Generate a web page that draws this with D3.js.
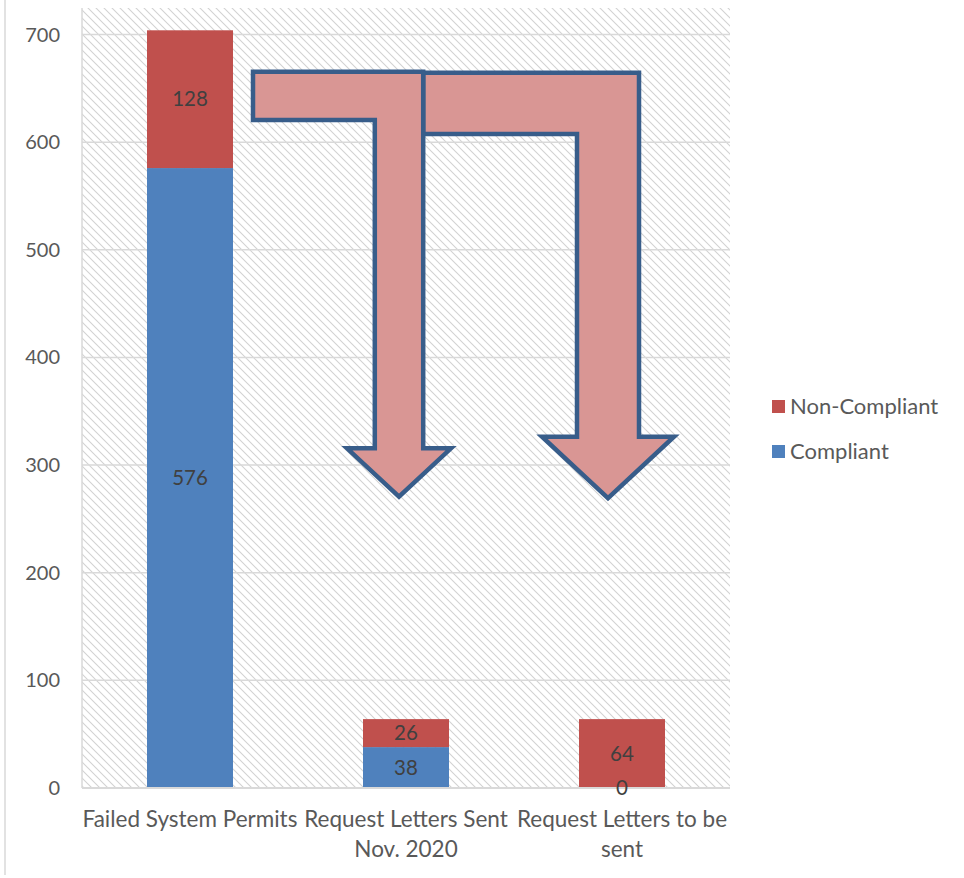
<!DOCTYPE html>
<html>
<head>
<meta charset="utf-8">
<script src="https://cdn.jsdelivr.net/npm/d3@7/dist/d3.min.js"></script>
<style>
  html, body { margin: 0; padding: 0; background: #fff; }
  svg { display: block; font-family: Lato, "Open Sans", sans-serif; }
</style>
</head>
<body>
<svg id="chart" width="964" height="878"></svg>
<script>
// ---- data ----
const categories = [["Failed System Permits"], ["Request Letters Sent", "Nov. 2020"], ["Request Letters to be", "sent"]];
const categoryKeys = ["Failed System Permits", "Request Letters Sent Nov. 2020", "Request Letters to be sent"];
const seriesNames = ["Compliant", "Non-Compliant"];
const compliant = [576, 38, 0];
const nonCompliant = [128, 26, 64];
const yTicks = [0, 100, 200, 300, 400, 500, 600, 700];
const colors = { "Compliant": "#4f81bd", "Non-Compliant": "#c0504d" };

// annotation arrows (in data-value terms for y, category-relative for x)
const arrows = [
  { from: 0, to: 2, dx: -14, shaftHalf: 31, headHalf: 66, top: 664.6, bandBottom: 607.6, shaftBottom: 326.4, tip: 269.2, leftAtPrevShaft: true },
  { from: 0, to: 1, dx: -7, shaftHalf: 24.2, headHalf: 52, top: 665.5, bandBottom: 620.6, shaftBottom: 315.6, tip: 270.6, leftAtPrevShaft: false }
];

// ---- layout ----
const svg = d3.select("#chart");
const plot = { left: 82, right: 730, top: 8, bottom: 788 };

const x = d3.scaleBand().domain(categoryKeys).range([plot.left, plot.right]).paddingInner(0.6).paddingOuter(0.3);
const y = d3.scaleLinear().domain([0, 700]).range([plot.bottom, 34.6]);

const defs = svg.append("defs");
const pat = defs.append("pattern").attr("id", "hatch").attr("patternUnits", "userSpaceOnUse")
  .attr("width", 8).attr("height", 8);
pat.append("path").attr("d", "M-2,-2 L10,10 M-2,6 L2,10 M6,-2 L10,2")
  .attr("stroke", "#d2d2d2").attr("stroke-width", 1.1).attr("fill", "none");

// outer chart border (left edge visible)
svg.append("line").attr("x1", 5).attr("x2", 5).attr("y1", 0).attr("y2", 875)
  .attr("stroke", "#d9d9d9").attr("stroke-width", 1.5);

// plot area hatched background
svg.append("rect").attr("x", plot.left).attr("y", plot.top)
  .attr("width", plot.right - plot.left).attr("height", plot.bottom - plot.top)
  .attr("fill", "url(#hatch)");

// gridlines
svg.append("g").selectAll("line").data(yTicks.filter(d => d > 0)).join("line")
  .attr("x1", plot.left).attr("x2", plot.right)
  .attr("y1", d => y(d)).attr("y2", d => y(d))
  .attr("stroke", "#d9d9d9").attr("stroke-width", 1.5);

// axes lines
svg.append("line").attr("x1", plot.left).attr("x2", plot.left).attr("y1", plot.top).attr("y2", plot.bottom)
  .attr("stroke", "#d9d9d9").attr("stroke-width", 1.5);

// y tick labels
const yAxis = d3.axisLeft(y).tickValues(yTicks).tickSize(0).tickPadding(0);
const yg = svg.append("g").attr("transform", `translate(60,0)`).call(yAxis);
yg.select(".domain").remove();
yg.selectAll("text").attr("font-size", 20).attr("fill", "#595959").attr("font-family", "Lato, sans-serif");

// stacked bars
const rows = categoryKeys.map((k, i) => ({ key: k, "Compliant": compliant[i], "Non-Compliant": nonCompliant[i] }));
const stack = d3.stack().keys(seriesNames)(rows);

const bw = 86;
const layers = svg.append("g").selectAll("g").data(stack).join("g").attr("fill", d => colors[d.key]);
layers.selectAll("rect").data(d => d).join("rect")
  .attr("x", d => x(d.data.key) + x.bandwidth() / 2 - bw / 2)
  .attr("width", bw)
  .attr("y", d => y(d[1]))
  .attr("height", d => y(d[0]) - y(d[1]));

// x axis line
svg.append("line").attr("x1", plot.left).attr("x2", plot.right).attr("y1", plot.bottom).attr("y2", plot.bottom)
  .attr("stroke", "#d9d9d9").attr("stroke-width", 2);

// data labels
const labels = svg.append("g");
stack.forEach(layer => {
  layer.forEach(d => {
    labels.append("text")
      .attr("x", x(d.data.key) + x.bandwidth() / 2)
      .attr("y", (y(d[0]) + y(d[1])) / 2)
      .attr("dy", "0.35em")
      .attr("text-anchor", "middle")
      .attr("font-size", 20.5).attr("fill", "#404040")
      .text(d[1] - d[0]);
  });
});

// arrows (annotations)
const cx = i => x(categoryKeys[i]) + x.bandwidth() / 2;
const arrowG = svg.append("g");
const firstShaftRight = cx(arrows[1].to) + arrows[1].dx + arrows[1].shaftHalf;
arrows.forEach(a => {
  const c = cx(a.to) + a.dx;
  const left = a.leftAtPrevShaft ? firstShaftRight : cx(a.from) + bw / 2 + 20;
  const pts = [
    [left, y(a.top)],
    [c + a.shaftHalf, y(a.top)],
    [c + a.shaftHalf, y(a.shaftBottom)],
    [c + a.headHalf, y(a.shaftBottom)],
    [c, y(a.tip)],
    [c - a.headHalf, y(a.shaftBottom)],
    [c - a.shaftHalf, y(a.shaftBottom)],
    [c - a.shaftHalf, y(a.bandBottom)],
    [left, y(a.bandBottom)]
  ];
  arrowG.append("path")
    .attr("d", d3.line()(pts) + "Z")
    .attr("fill", "#d99694")
    .attr("stroke", "#385d8a")
    .attr("stroke-width", 4.5)
    .attr("stroke-linejoin", "miter");
});

// x category labels
const xl = svg.append("g");
categoryKeys.forEach((k, i) => {
  const t = xl.append("text").attr("x", cx(i)).attr("y", 827)
    .attr("text-anchor", "middle").attr("font-size", 22.5).attr("fill", "#595959");
  categories[i].forEach((line, j) => {
    t.append("tspan").attr("x", cx(i)).attr("dy", j === 0 ? 0 : 30).text(line);
  });
});

// legend
const legendItems = ["Non-Compliant", "Compliant"];
const lg = svg.append("g").attr("transform", "translate(772,400)");
legendItems.forEach((name, i) => {
  const g = lg.append("g").attr("transform", `translate(0,${i * 45})`);
  g.append("rect").attr("width", 13).attr("height", 13).attr("fill", colors[name]);
  g.append("text").attr("x", 18).attr("y", 6.5).attr("dy", "0.35em")
    .attr("font-size", 22).attr("fill", "#595959").text(name);
});
</script>
</body>
</html>
